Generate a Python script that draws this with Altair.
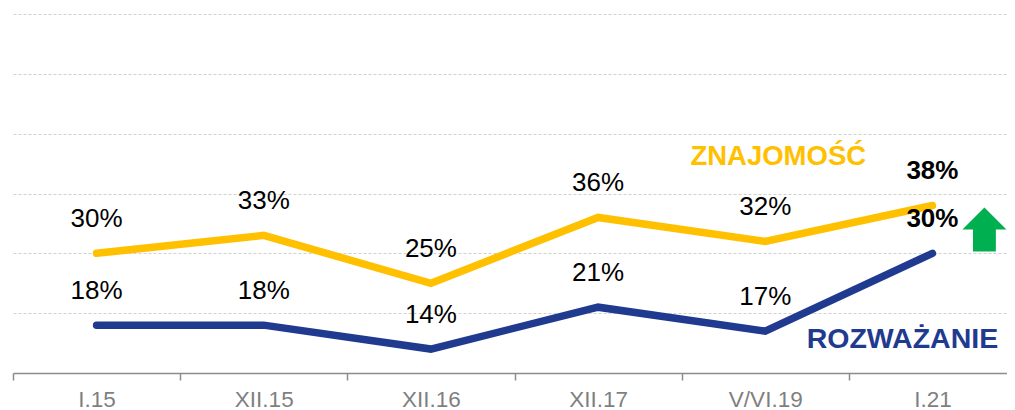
import altair as alt
import pandas as pd

periods = ["I.15", "XII.15", "XII.16", "XII.17", "V/VI.19", "I.21"]
znajomosc = [30, 33, 25, 36, 32, 38]
rozwazanie = [18, 18, 14, 21, 17, 30]
series_names = ["ZNAJOMOŚĆ", "ROZWAŻANIE"]
grid_values = [10, 20, 30, 40, 50, 60, 70]

YELLOW = "#FFC000"
BLUE = "#1F3A8F"
GREEN = "#00B050"

rows = []
for name, vals in zip(series_names, [znajomosc, rozwazanie]):
    for i, (p, v) in enumerate(zip(periods, vals)):
        rows.append({"period": p, "value": v, "series": name,
                     "label": f"{v}%", "last": i == len(periods) - 1})
df = pd.DataFrame(rows)

x_enc = alt.X(
    "period:N", sort=periods,
    scale=alt.Scale(type="band", paddingInner=0, paddingOuter=0, domain=periods,
                    range=[0, 1003]),
    axis=alt.Axis(title=None, labelFontSize=22.5, labelColor="#7f7f7f",
                  labelFont="Liberation Sans", tickBand="extent",
                  domainColor="#8c8c8c", domainWidth=1.5, tickColor="#8c8c8c",
                  tickWidth=1.5, tickSize=7, labelPadding=8, labelAngle=0),
)
y_enc = alt.Y(
    "value:Q",
    scale=alt.Scale(domain=[10, 70], nice=False, zero=False),
    axis=alt.Axis(values=grid_values, grid=True, gridColor="#d0d0d0",
                  gridDash=[3, 2], gridWidth=1, labels=False, ticks=False,
                  domain=False, title=None),
)

base = alt.Chart(df)

lines = base.mark_line(strokeWidth=7.5, strokeCap="round", strokeJoin="miter").encode(
    x=x_enc, y=y_enc,
    color=alt.Color("series:N", scale=alt.Scale(domain=series_names, range=[YELLOW, BLUE]),
                    legend=None),
    order=alt.Order("series:N"),
)

labels_normal = base.transform_filter("!datum.last").mark_text(
    fontSize=26, font="Liberation Sans", color="black", dy=-34, baseline="middle"
).encode(x=alt.X("period:N", sort=periods), y="value:Q", text="label:N")

labels_bold = base.transform_filter("datum.last").mark_text(
    fontSize=26, font="Liberation Sans", fontWeight="bold", color="black", dy=-34,
    baseline="middle"
).encode(x=alt.X("period:N", sort=periods), y="value:Q", text="label:N")

name_df = pd.DataFrame({"name": series_names, "period": ["V/VI.19", "I.21"],
                        "value": [46.1, 15.6]})
name_y = alt.Chart(name_df[name_df["name"] == series_names[0]]).mark_text(
    fontSize=27.5, font="Liberation Sans", fontWeight="bold", color=YELLOW,
    baseline="middle", dx=13
).encode(x=alt.X("period:N", sort=periods), y="value:Q", text="name:N")
name_b = alt.Chart(name_df[name_df["name"] == series_names[1]]).mark_text(
    fontSize=28.5, font="Liberation Sans", fontWeight="bold", color=BLUE,
    baseline="middle", dx=-30
).encode(x=alt.X("period:N", sort=periods), y="value:Q", text="name:N")

arrow_path = "M0,-1 L1,0 L0.52,0 L0.52,1 L-0.52,1 L-0.52,0 L-1,0 Z"
arrow = alt.Chart(pd.DataFrame({"period": ["I.21"], "value": [34]})).mark_point(
    shape=arrow_path, size=1936, filled=True, color=GREEN, opacity=1,
    strokeWidth=0, xOffset=52
).encode(x=alt.X("period:N", sort=periods), y="value:Q")

chart = alt.layer(lines, labels_normal, labels_bold, name_y, name_b, arrow).properties(
    width=994, height=359,
    padding={"left": 5, "top": 6, "right": 0, "bottom": 40},
    autosize=alt.AutoSizeParams(type="none"),
).configure_view(stroke=None)

chart.save("out.html", embed_options={"renderer": "svg", "actions": False})
